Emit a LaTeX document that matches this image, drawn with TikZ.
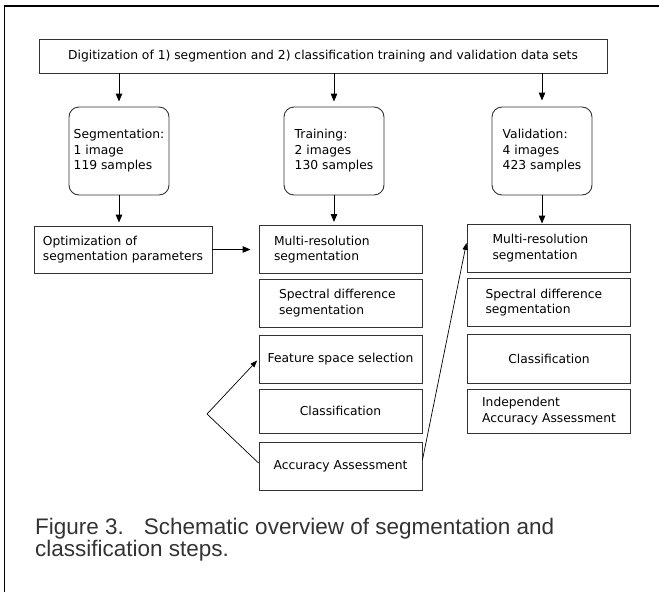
\documentclass[tikz,border=0pt]{standalone}
\usepackage{fontspec}
\setmainfont{DejaVu Sans}
\newfontfamily\capfont{Liberation Sans}
\usetikzlibrary{calc,arrows.meta}

\begin{document}
\begin{tikzpicture}[x=1pt,y=-1pt,
    box/.style={draw=black!80, line width=0.9pt, rectangle, inner sep=0pt,
        minimum width=163pt, minimum height=48pt, font=\fontsize{12.3}{15.5}\selectfont},
    rbox/.style={box, rounded corners=10pt, minimum width=100pt, minimum height=88pt, align=left},
    arr/.style={-{Triangle[length=8pt,width=6.5pt]}, line width=1pt},
    thinarr/.style={-{Triangle[length=7pt,width=5pt]}, line width=0.7pt}]
    \useasboundingbox (0,0) rectangle (659,592);
    \draw[line width=1.2pt] (4.5,592) -- (4.5,6) -- (659,6); % frame
    
    \node[box, minimum width=568pt, minimum height=34pt] (digit) at (323,56)
        {Digitization of 1) segmention and 2) classification training and validation data sets};
    
    \node[rbox] (seg) at (119,151) {Segmentation:\\1 image\\119 samples};
    \node[rbox] (train) at (334,151) {Training:\\2 images\\130 samples};
    \node[rbox] (valid) at (542,151) {Validation:\\4 images\\423 samples};
    
    \node[box, minimum width=178pt, minimum height=47pt, align=left] (opt) at (123,249.5)
        {Optimization of\\segmentation parameters};
    
    % training
    \node[box, align=left, inner xsep=15pt, text width=133pt] (tmulti) at (340.5,249.5) {Multi-resolution\\segmentation};
    \node[box, align=left, inner xsep=20pt, text width=123pt] (tspec) at (340.5,303) {Spectral difference\\segmentation};
    \node[box] (tfeat) at (340.5,359) {Feature space selection};
    \node[box, minimum height=44pt] (tclass) at (340.5,411) {Classification};
    \node[box] (tacc) at (340.5,466) {Accuracy Assessment};
    
    % validation
    \node[box, align=left, inner xsep=25pt, text width=113pt] (vmulti) at (549,248) {Multi-resolution\\segmentation};
    \node[box, align=left, inner xsep=18pt, text width=127pt] (vspec) at (549,302.5) {Spectral difference\\segmentation};
    \node[box, minimum height=49pt] (vclass) at (549,358.5) {Classification};
    \node[box, minimum height=44pt, align=left] (vind) at (549,411) {Independent\\Accuracy Assessment};
    
    \draw[arr, shorten >=5pt] (digit.south -| seg.north) -- (seg.north);
    \draw[arr, shorten >=5pt] (digit.south -| train.north) -- (train.north);
    \draw[arr, shorten >=6pt] (digit.south -| valid.north) -- (valid.north);
    \draw[arr, shorten >=3pt] (seg.south) -- (seg.south |- opt.north);
    \draw[arr, shorten >=3pt] (train.south) -- (train.south |- tmulti.north);
    \draw[arr] (valid.south) -- (valid.south |- vmulti.north);
    \draw[arr, shorten >=8pt] (opt.east) -- (opt.east -| tmulti.west);
    
    \coordinate (bend) at (207,414);
    \draw[thinarr, shorten >=2pt] ([yshift=3pt]tacc.west) -- (bend) -- (tfeat.west);
    \draw[thinarr, shorten >=3pt] ([yshift=6pt]tacc.east) -- ([yshift=8pt]vmulti.west);
    
    \node[anchor=north west, inner sep=0pt, align=left, text=black!80,
        font=\capfont\fontsize{22.5}{22}\selectfont] (caption) at (35,518)
        {Figure 3.\hspace{20pt}Schematic overview of segmentation and\\classification steps.};
\end{tikzpicture}
\end{document}
